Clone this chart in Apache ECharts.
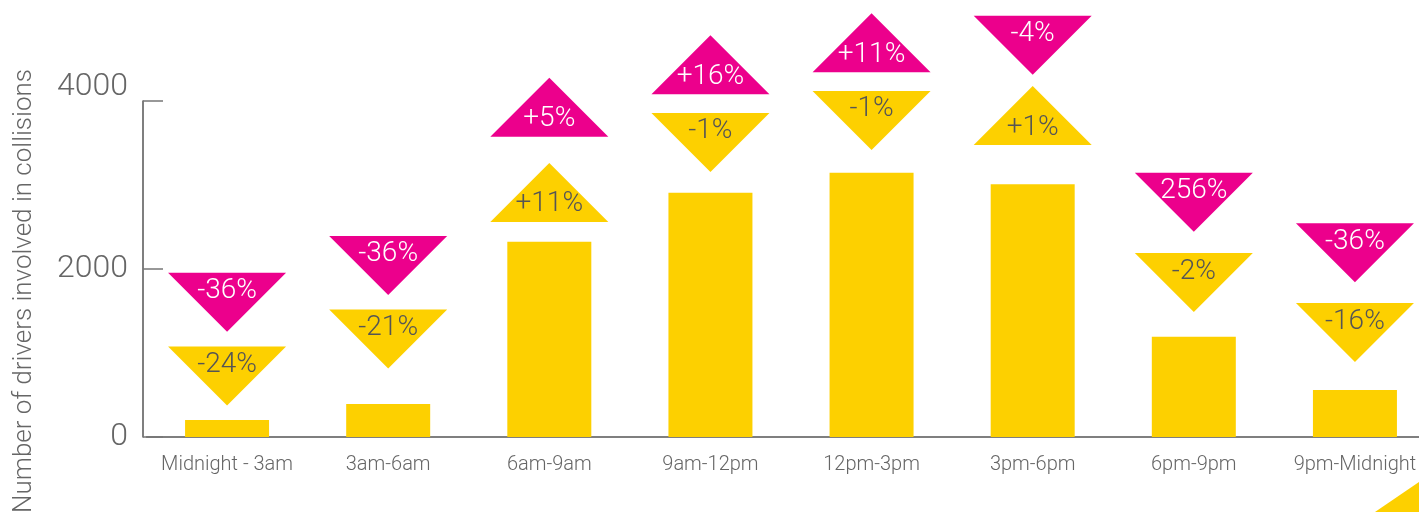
<!DOCTYPE html>
<html><head><meta charset="utf-8">
<script src="https://cdn.jsdelivr.net/npm/echarts@6/dist/echarts.min.js"></script>
<style>html,body{margin:0;padding:0;background:#fff}#c{width:1419px;height:512px}</style>
</head><body><div id="c"></div>
<script>
const categories = ['Midnight - 3am','3am-6am','6am-9am','9am-12pm','12pm-3pm','3pm-6pm','6pm-9pm','9pm-Midnight'];
const drivers = [202, 393, 2325, 2908, 3147, 3008, 1194, 560];
const yellowChange = ['-24%','-21%','+11%','-1%','-1%','+1%','-2%','-16%'];
const pinkChange = ['-36%','-36%','+5%','+16%','+11%','-4%','256%','-36%'];
const yellowLevel = [726, 1167, 2911, 3506, 3768, 3827, 1839, 1244];
const pinkLevel = [1605, 2042, 3925, 4431, 4693, 4663, 2794, 2193];
const yMin = 0, yMax = 4000, yStep = 2000;
const yAxisTitle = 'Number of drivers involved in collisions';

const YELLOW = '#FDD000', PINK = '#EC008C';
const FONT = 'Roboto';

function markers(levels, labels) {
  return levels.map((v, i) => {
    const up = labels[i].charAt(0) === '+';
    return {
      value: [i, v],
      symbolRotate: up ? 0 : 180,
      label: { formatter: labels[i], offset: [0, up ? 12 : -11] }
    };
  });
}

const chart = echarts.init(document.getElementById('c'), null, { renderer: 'canvas' });
chart.setOption({
  animation: false,
  backgroundColor: '#fff',
  grid: { left: 146.5, top: 101, bottom: 75, right: -16.5, containLabel: false, outerBoundsMode: 'none' },
  xAxis: {
    type: 'category',
    data: categories,
    axisLine: { lineStyle: { color: '#555', width: 1.5 } },
    axisTick: { show: false },
    axisLabel: { color: '#666', fontSize: 20, fontFamily: FONT, fontWeight: 300, margin: 18, interval: 0 }
  },
  yAxis: {
    type: 'value',
    min: yMin, max: yMax, interval: yStep,
    offset: 3.5,
    splitLine: { show: false },
    axisLine: { show: true, lineStyle: { color: '#555', width: 1.5 } },
    axisTick: { show: true, inside: true, length: 20, lineStyle: { color: '#777', width: 1.5 } },
    axisLabel: {
      color: '#666', fontSize: 32, fontFamily: FONT, fontWeight: 300, margin: 15,
      formatter: v => v === yMax ? '{top|' + v + '}' : String(v),
      rich: { top: { color: '#666', fontSize: 32, fontFamily: FONT, fontWeight: 300, padding: [0, 0, 29, 0] } }
    }
  },
  series: [
    {
      type: 'bar',
      data: drivers,
      barWidth: 84,
      itemStyle: { color: YELLOW },
      emphasis: { disabled: true },
      silent: true
    },
    {
      type: 'scatter',
      data: markers(yellowLevel, yellowChange),
      symbol: 'triangle',
      symbolSize: [118, 59],
      clip: false,
      itemStyle: { color: YELLOW, opacity: 1 },
      label: { show: true, position: 'inside', color: '#555', fontSize: 28, fontFamily: FONT, fontWeight: 300 },
      emphasis: { disabled: true },
      silent: true
    },
    {
      type: 'scatter',
      data: markers(pinkLevel, pinkChange),
      symbol: 'triangle',
      symbolSize: [118, 59],
      clip: false,
      itemStyle: { color: PINK, opacity: 1 },
      label: { show: true, position: 'inside', color: '#fff', fontSize: 28, fontFamily: FONT, fontWeight: 300 },
      emphasis: { disabled: true },
      silent: true
    }
  ],
  graphic: [
    {
      type: 'text', x: 24, y: 291, rotation: Math.PI / 2, silent: true,
      style: { text: yAxisTitle, fill: '#666', font: '300 26px ' + FONT, align: 'center', verticalAlign: 'middle' }
    },
    {
      type: 'polygon', silent: true,
      shape: { points: [[1375, 512], [1419, 482], [1419, 512]] },
      style: { fill: YELLOW }
    }
  ]
});
</script>
</body></html>
